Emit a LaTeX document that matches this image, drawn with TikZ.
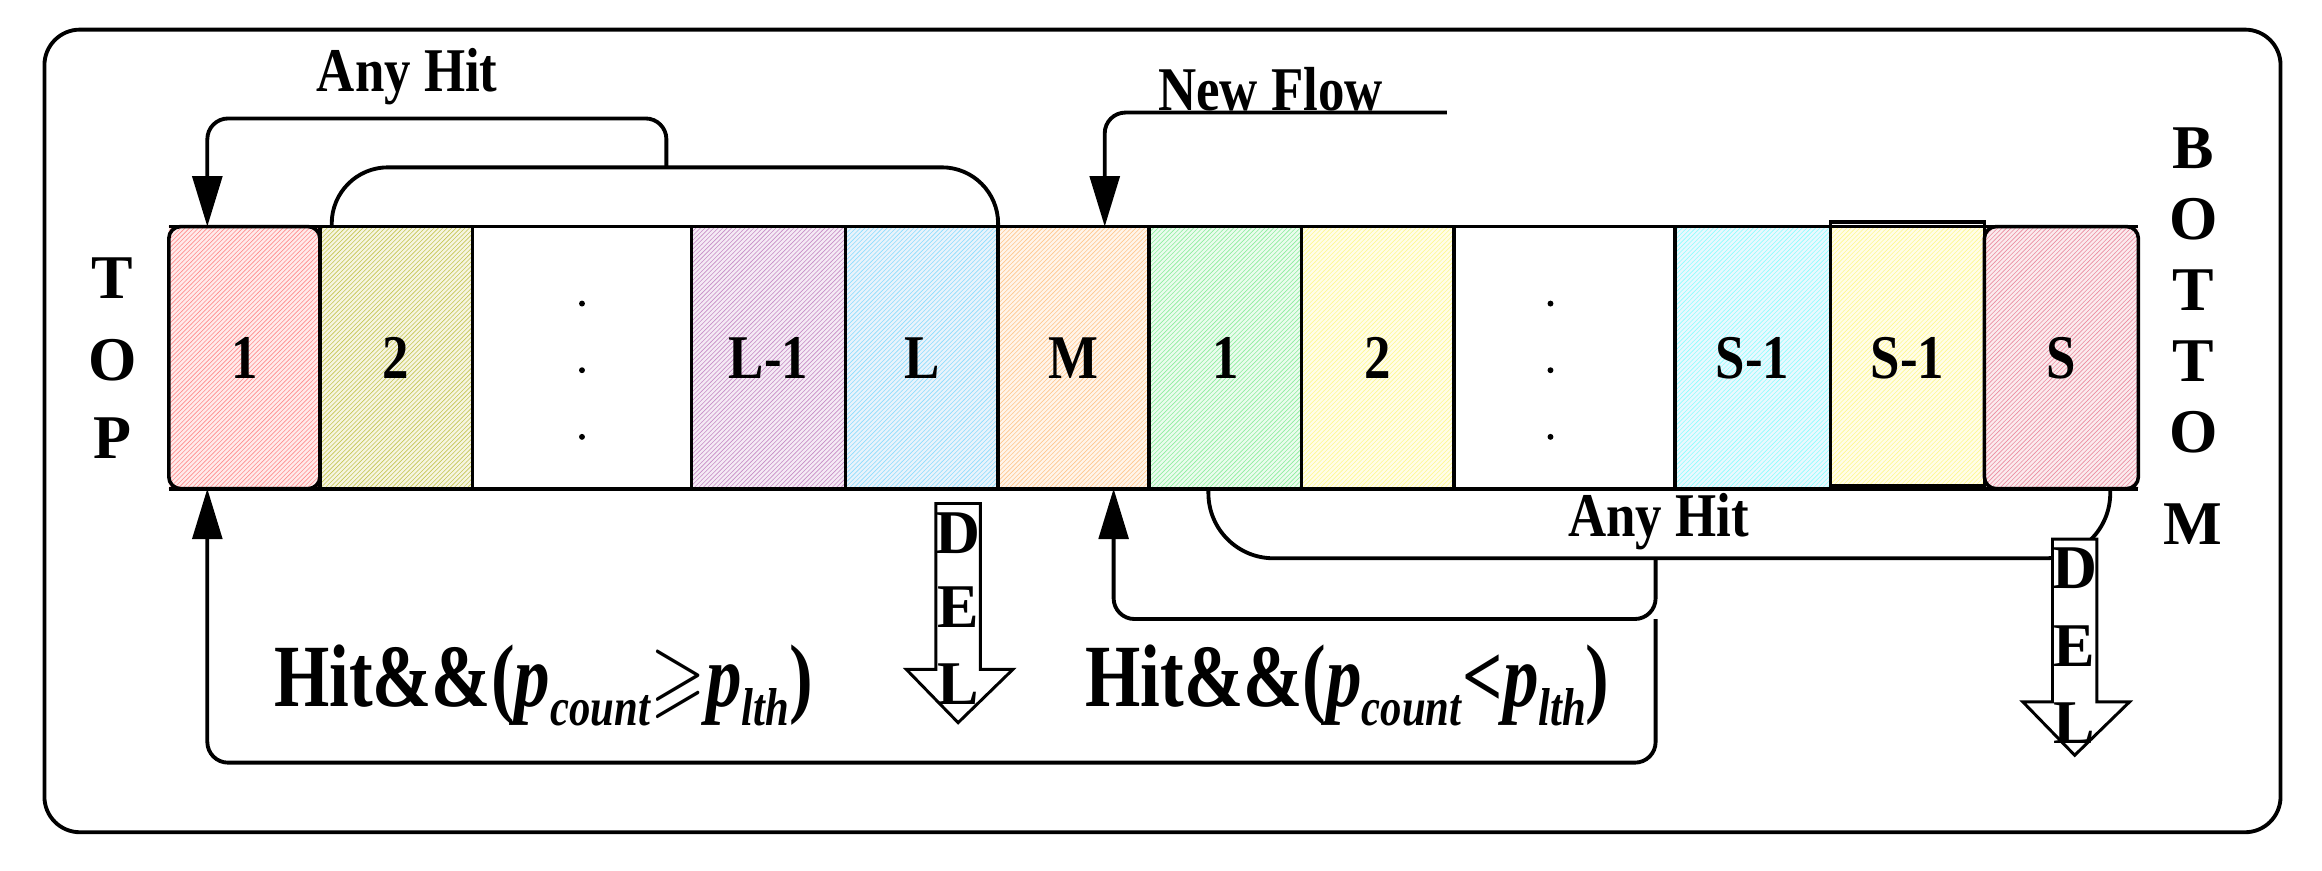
\documentclass[tikz,border=0pt]{standalone}
\usepackage{amssymb}
\usepackage{fontspec}
\setmainfont{Liberation Serif}
\usetikzlibrary{arrows.meta,patterns}
\newcommand{\mysub}[1]{\raisebox{-0.22em}{\fontsize{36}{38}\selectfont\textit{#1}}}
\begin{document}
\begin{tikzpicture}[x=1pt,y=-1pt,line width=2.6pt,
  cell/.style={draw,line width=2.4pt},
  lab/.style={font=\fontsize{42}{44}\selectfont\bfseries},
  big/.style={font=\fontsize{42}{44}\selectfont\bfseries},
  huge/.style={font=\fontsize{60}{62}\selectfont\bfseries},
  arr/.style={-{Triangle[length=34pt,width=20pt]},rounded corners=14pt},
  del/.style={draw,line width=2pt,fill=white}]
\useasboundingbox (0,0) rectangle (1568,588);
\draw[rounded corners=24pt] (30,20) rectangle (1540,562);
% cells
\def\cellc#1#2#3#4#5{\fill[#3!8] (#1,153) rectangle (#2,330);
  \fill[pattern=north east lines,pattern color=#3!45] (#1,153) rectangle (#2,330);
  \node[lab] (#4) at ({(#1+#2)/2},242) {\scalebox{0.85}[1]{#5}};}
\cellc{114}{216}{red}{c1}{1}
\cellc{216}{319}{olive}{c2}{2}
\cellc{467}{571}{violet}{cl1}{L-1}
\cellc{571}{674}{cyan!70!blue}{cl}{L}
\cellc{674}{776}{orange}{cm}{M}
\cellc{776}{879}{green!70!teal}{s1}{1}
\cellc{879}{982}{yellow!90!orange}{s2}{2}
\cellc{1131}{1236}{cyan}{ss1}{S-1}
\cellc{1236}{1340}{yellow!90!orange}{ss2}{S-1}
\cellc{1340}{1444}{purple!70!red}{ss}{S}
\draw[line width=2.6pt] (114,153) -- (1444,153) (114,330) -- (1444,330);
\foreach \x in {216,319,467,571,674,776,879,982,1131,1236,1340} \draw[cell] (\x,153) -- (\x,330);
\draw[cell,rounded corners=8pt] (114,153) rectangle (216,330);
\draw[cell,rounded corners=8pt] (1340,153) rectangle (1444,330);
\draw[cell] (1236,150) rectangle (1340,328);
\foreach \yy in {205,250,295} {\fill (393,\yy) circle (2pt); \fill (1047,\yy) circle (2pt);}
% side texts
\node[big] (t1) at (76,188) {T};
\node[big] (t2) at (76,243) {O};
\node[big] (t3) at (76,296) {P};
\node[big] (b1) at (1481,100) {B};
\node[big] (b2) at (1481,148) {O};
\node[big] (b3) at (1481,196) {T};
\node[big] (b4) at (1481,244) {T};
\node[big] (b5) at (1481,292) {O};
\node[big] (b6) at (1481,354) {M};
% top
\node[big] (any1) at (275,52) {\scalebox{0.85}[1]{Any Hit}};
\coordinate (a1) at (450,113);
\coordinate (c1t) at (140,153);
\draw[arr] (a1) -- (450,80) -- (140,80) -- (c1t);
\draw[rounded corners=38pt] (224,153) -- (224,113) -- (674,113) -- (674,153);
\node[big] (nf) at (858,60) {\scalebox{0.85}[1]{New Flow}};
\coordinate (nfs) at (977,76);
\coordinate (cmt) at (746,153);
\draw[arr] (nfs) -- (746,76) -- (cmt);
% bottom
\node[big] (any2) at (1120,352) {\scalebox{0.85}[1]{Any Hit}};
\draw[rounded corners=44pt] (816,330) -- (816,377) -- (1425,377) -- (1425,330);
\coordinate (j) at (1118,377);
\coordinate (cmb) at (752,330);
\coordinate (c1b) at (140,330);
\draw[arr] (j) -- (1118,418) -- (752,418) -- (cmb);
\draw[arr] (1118,418) -- (1118,515) -- (140,515) -- (c1b);
\node[huge] (h1) at (367,463) {\scalebox{0.8}[1]{Hit\&\&(\textit{p}\mysub{count}$\geqslant$\textit{p}\mysub{lth})}};
\node[huge] (h2) at (910,463) {\scalebox{0.8}[1]{Hit\&\&(\textit{p}\mysub{count}<\textit{p}\mysub{lth})}};
% DEL arrows
\draw[del] (632,340) -- (662,340) -- (662,452) -- (684,452) -- (647,488) -- (612,452) -- (632,452) -- cycle;
\node[big] (d1) at (647,360) {D}; \node[big] (d2) at (647,410) {E}; \node[big] (d3) at (647,462) {L};
\draw[del] (1386,364) -- (1416,364) -- (1416,474) -- (1438,474) -- (1401,510) -- (1366,474) -- (1386,474) -- cycle;
\node[big] (e1) at (1401,384) {D}; \node[big] (e2) at (1401,436) {E}; \node[big] (e3) at (1401,488) {L};
\end{tikzpicture}
\end{document}
